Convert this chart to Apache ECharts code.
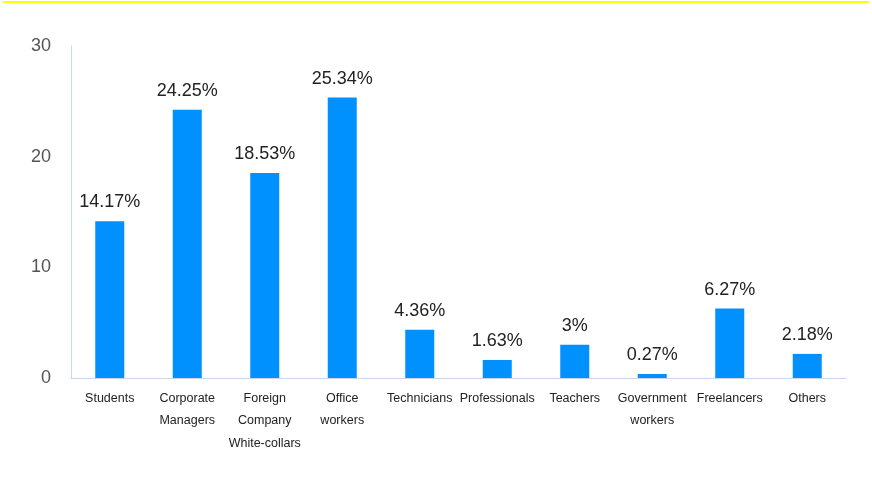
<!DOCTYPE html>
<html>
<head>
<meta charset="utf-8">
<script src="https://cdn.jsdelivr.net/npm/echarts@6/dist/echarts.min.js"></script>
<style>html,body{margin:0;padding:0;background:#fff}#c{width:872px;height:492px}</style>
</head>
<body>
<div id="c"></div>
<script>
const categories = ["Students", "Corporate\nManagers", "Foreign\nCompany\nWhite-collars", "Office\nworkers", "Technicians", "Professionals", "Teachers", "Government\nworkers", "Freelancers", "Others"];
const values = [14.17, 24.25, 18.53, 25.34, 4.36, 1.63, 3, 0.27, 6.27, 2.18];
const yTicks = [0, 10, 20, 30];

const chart = echarts.init(document.getElementById('c'));
chart.setOption({
  backgroundColor: '#fff',
  animation: false,
  graphic: [{
    type: 'rect', left: 3, top: 1, shape: { width: 866, height: 2 },
    style: { fill: '#ffff00' }
  }],
  grid: { left: 71, right: 26, top: 46, bottom: 114, containLabel: false },
  xAxis: {
    type: 'category',
    data: categories,
    axisLine: { lineStyle: { color: '#c9d5f2', width: 1 } },
    axisTick: { show: false },
    axisLabel: {
      interval: 0, color: '#222', fontSize: 12.5, lineHeight: 22.5, margin: 9,
      fontFamily: 'Liberation Sans, Arial, sans-serif'
    }
  },
  yAxis: {
    type: 'value', min: yTicks[0], max: yTicks[yTicks.length - 1], interval: 10,
    axisLine: { show: true, lineStyle: { color: '#c9d5f2', width: 1 } },
    axisTick: { show: false },
    splitLine: { show: false },
    axisLabel: { color: '#555', fontSize: 18, margin: 20, fontFamily: 'Liberation Sans, Arial, sans-serif' }
  },
  series: [{
    type: 'bar',
    data: values,
    barWidth: 29,
    barMinHeight: 4,
    itemStyle: { color: '#0091ff' },
    label: {
      show: true, position: 'top', distance: 10, color: '#222', fontSize: 18,
      fontFamily: 'Liberation Sans, Arial, sans-serif',
      formatter: p => p.value + '%'
    }
  }]
});
</script>
</body>
</html>
